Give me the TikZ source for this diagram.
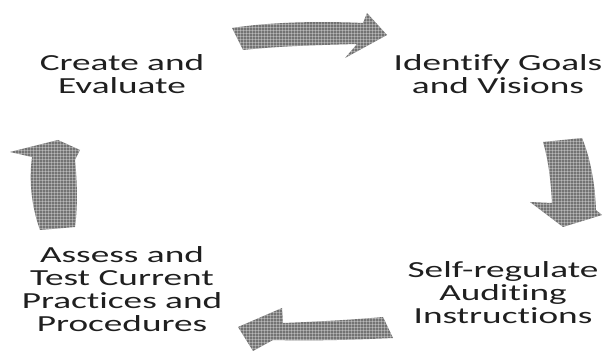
\documentclass[tikz,border=0pt]{standalone}
\usepackage{fontspec}
\setmainfont{Carlito}[Ligatures=CommonOff]
\begin{document}
\begin{tikzpicture}[x=1pt,y=-1pt,
  label/.style={inner sep=0pt, anchor=north, align=center, text=black!88,
    font=\fontsize{23}{23}\selectfont},
  blockarrow/.style={fill=black!55}]
\useasboundingbox (0,0) rectangle (605,352);

% hatched fill for the block arrows
\newcommand{\hatchfill}[1]{%
  \fill[blockarrow] #1;
  \begin{scope}
    \clip #1;
    \foreach \gx in {0,3,...,605} \draw[white, opacity=0.3, line width=0.7pt] (\gx,0) -- (\gx,352);
    \foreach \gy in {0,3,...,352} \draw[white, opacity=0.3, line width=0.7pt] (0,\gy) -- (605,\gy);
  \end{scope}}

% wide lettering
\newcommand{\wide}[1]{\scalebox{1.62}[1]{#1}}

% top arrow, pointing right
\hatchfill{(232,28) .. controls (270,22) and (320,21) .. (363,23) -- (367,13) -- (387,35) -- (345,58) -- (357,44)
  .. controls (320,45) and (280,46) .. (243,50) -- cycle}

% right arrow, pointing down
\hatchfill{(543,142) -- (582,138) .. controls (591,160) and (595,185) .. (596,210) -- (602,215) -- (563,227)
  -- (530,202) -- (552,203) .. controls (551,185) and (549,162) .. cycle}

% bottom arrow, pointing left
\hatchfill{(393,338) -- (383,317) .. controls (350,320) and (310,322) .. (283,323) -- (282,308) -- (238,327)
  -- (253,351) -- (273,340) .. controls (310,341) and (350,340) .. cycle}

% left arrow, pointing up
\hatchfill{(40,230) -- (75,227) .. controls (78,205) and (77,180) .. (75,160) -- (80,150) -- (58,140)
  -- (10,152) -- (32,157) .. controls (29,180) and (31,205) .. cycle}

\node[label] (create) at (122,54) {\wide{Create and}\\\wide{Evaluate}};
\node[label] (goals) at (498,54) {\wide{Identify Goals}\\\wide{and Visions}};
\node[label] (audit) at (503,261) {\wide{Self-regulate}\\\wide{Auditing}\\\wide{Instructions}};
\node[label] (assess) at (122,246) {\wide{Assess and}\\\wide{Test Current}\\\wide{Practices and}\\\wide{Procedures}};
\end{tikzpicture}
\end{document}
